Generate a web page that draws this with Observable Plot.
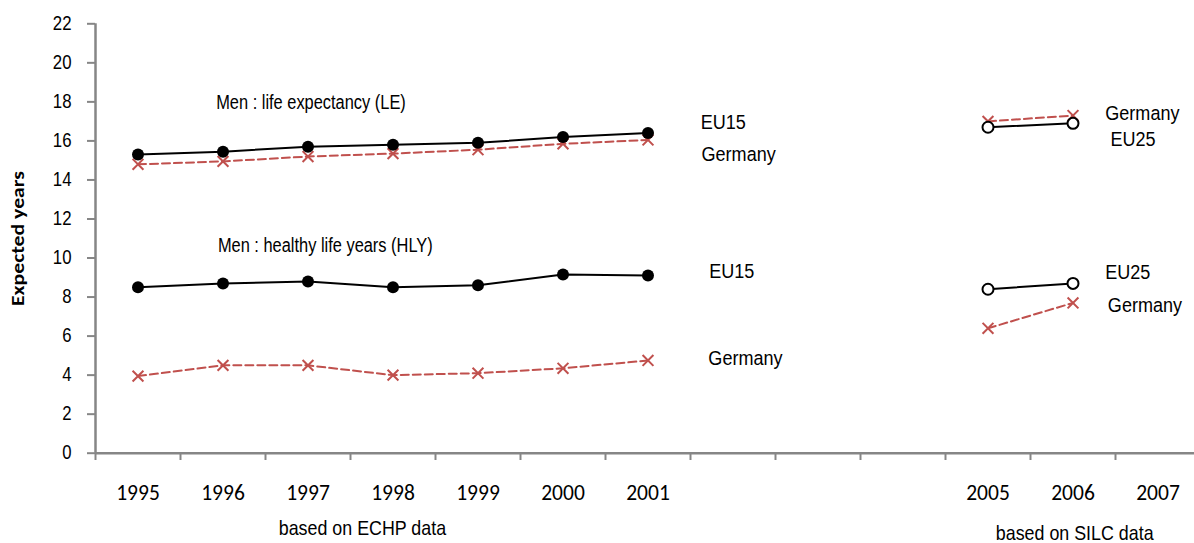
<!DOCTYPE html>
<html>
<head>
<meta charset="utf-8">
<script src="https://cdn.jsdelivr.net/npm/d3@7"></script>
<script src="https://cdn.jsdelivr.net/npm/@observablehq/plot@0.6"></script>
<style>
  html, body { margin: 0; padding: 0; background: #fff; }
  #chart svg { display: block; }
</style>
</head>
<body>
<div id="chart"></div>
<script>
// ---- data ----
const echpYears = [1995, 1996, 1997, 1998, 1999, 2000, 2001];
const silcYears = [2005, 2006];
const leEU15 = [15.3, 15.45, 15.7, 15.8, 15.9, 16.2, 16.4];
const leGermanyECHP = [14.8, 14.95, 15.2, 15.35, 15.55, 15.85, 16.05];
const hlyEU15 = [8.5, 8.7, 8.8, 8.5, 8.6, 9.15, 9.1];
const hlyGermanyECHP = [3.95, 4.5, 4.5, 4.0, 4.1, 4.35, 4.75];
const leEU25 = [16.7, 16.9];
const leGermanySILC = [17.0, 17.3];
const hlyEU25 = [8.4, 8.7];
const hlyGermanySILC = [6.4, 7.7];
const tickYears = [1995, 1996, 1997, 1998, 1999, 2000, 2001, 2005, 2006, 2007];
const allYears = d3.range(1995, 2008);
const yTicks = d3.range(0, 23, 2);
const seriesLabels = ["EU15", "Germany", "EU15", "Germany", "Germany", "EU25", "EU25", "Germany"];
const seriesLabelYear = [2001.62, 2001.63, 2001.72, 2001.71, 2006.38, 2006.44, 2006.38, 2006.41];
const seriesLabelValue = [16.93, 15.33, 9.3, 4.85, 17.4, 16.05, 9.26, 7.57];
const groupTitles = ["Men : life expectancy (LE)", "Men : healthy life years (HLY)"];
const groupTitleYear = [1995.92, 1995.94];
const groupTitleValue = [17.97, 10.64];
const captions = ["based on ECHP data", "based on SILC data"];
const captionYear = [1997.64, 2006.02];

// ---- build table ----
const rows = [];
function add(years, vals, seg, kind) {
  years.forEach((yr, i) => rows.push({year: yr, value: vals[i], seg, kind}));
}
add(echpYears, leEU15, "leEU15", "EU15");
add(echpYears, leGermanyECHP, "leDE1", "DE");
add(echpYears, hlyEU15, "hlyEU15", "EU15");
add(echpYears, hlyGermanyECHP, "hlyDE1", "DE");
add(silcYears, leEU25, "leEU25", "EU25");
add(silcYears, leGermanySILC, "leDE2", "DE");
add(silcYears, hlyEU25, "hlyEU25", "EU25");
add(silcYears, hlyGermanySILC, "hlyDE2", "DE");

const labels = seriesLabels.map((t, i) => ({t, x: seriesLabelYear[i], y: seriesLabelValue[i]}));
const titles = groupTitles.map((t, i) => ({t, x: groupTitleYear[i], y: groupTitleValue[i]}));
const caps = captions.map((t, i) => ({t, x: captionYear[i]}));
const bandEdges = allYears.map(y => y - 0.5);

const gray = "#868686";
const red = "#C0504D";
const narrow = "Liberation Sans";
const calib = "Carlito";
// horizontal condensing factor per font size (imitates Arial Narrow)
const condense = {"20": 0.82, "20.5": 0.88, "21": 0.85, "19.5": 0.86};

const chart = Plot.plot({
  width: 1194,
  height: 543,
  marginLeft: 95,
  marginRight: 0,
  marginTop: 23,
  marginBottom: 90,
  x: {domain: [1994.5, 2007.5], range: [95, 1200]},
  y: {domain: [0, 22], range: [452.7, 23.3]},
  marks: [
    Plot.axisY({ticks: yTicks, tickSize: 8, tickPadding: 16, stroke: gray, strokeWidth: 2, fill: "black",
      fontSize: 19.5, fontFamily: narrow, label: null}),
    Plot.axisX({ticks: bandEdges, tickSize: 7, tickFormat: () => "", stroke: gray, strokeWidth: 2, label: null}),
    Plot.ruleX([1994.5], {y1: 0, y2: 22, stroke: gray, strokeWidth: 2.5}),
    Plot.ruleY([0], {x1: 1994.5, x2: 2007.5, stroke: gray, strokeWidth: 2.5}),
    Plot.text(tickYears, {x: d => d, text: d => String(d), frameAnchor: "bottom", dy: 40, lineAnchor: "middle",
      fontSize: 21.5, fontFamily: calib, fill: "black"}),
    Plot.text(["Expected years"], {frameAnchor: "left", dx: -77, rotate: -90, text: d => d, textAnchor: "middle",
      lineAnchor: "middle", fontSize: 17, fontWeight: "bold", fontFamily: "Carlito, Lato", fill: "black"}),
    Plot.line(rows.filter(d => d.kind !== "DE"), {x: "year", y: "value", z: "seg", stroke: "black", strokeWidth: 2}),
    Plot.line(rows.filter(d => d.kind === "DE"), {x: "year", y: "value", z: "seg", stroke: red, strokeWidth: 2, strokeDasharray: "8,4"}),
    Plot.dot(rows.filter(d => d.kind === "DE"), {x: "year", y: "value", symbol: "times", stroke: red, strokeWidth: 2, r: 5}),
    Plot.dot(rows.filter(d => d.kind === "EU15"), {x: "year", y: "value", fill: "black", r: 6}),
    Plot.dot(rows.filter(d => d.kind === "EU25"), {x: "year", y: "value", fill: "white", stroke: "black", strokeWidth: 2, r: 5.5}),
    Plot.text(labels, {x: "x", y: "y", text: "t", textAnchor: "start", fontSize: 20.5, fontFamily: narrow, fill: "black"}),
    Plot.text(titles, {x: "x", y: "y", text: "t", textAnchor: "start", fontSize: 20, fontFamily: narrow, fill: "black"}),
    Plot.text(caps.slice(0, 1), {x: "x", text: "t", frameAnchor: "bottom", dy: 75, lineAnchor: "middle", fontSize: 21, fontFamily: narrow, fill: "black"}),
    Plot.text(caps.slice(1), {x: "x", text: "t", frameAnchor: "bottom", dy: 80, lineAnchor: "middle", fontSize: 21, fontFamily: narrow, fill: "black"})
  ]
});
document.getElementById("chart").appendChild(chart);

// condense the Arial-style text to mimic Arial Narrow
d3.select(chart).selectAll("g[font-family='Liberation Sans']").each(function () {
  const f = condense[this.getAttribute("font-size")] || 0.82;
  d3.select(this).selectAll("text").each(function () {
    const L = this.getComputedTextLength();
    if (L > 0) {
      this.setAttribute("textLength", (L * f).toFixed(1));
      this.setAttribute("lengthAdjust", "spacingAndGlyphs");
    }
  });
});
// the rotated axis title is stretched along its length in the original
d3.select(chart).selectAll("g[font-weight='bold'] text").each(function () {
  this.setAttribute("textLength", 135);
  this.setAttribute("lengthAdjust", "spacingAndGlyphs");
});
</script>
</body>
</html>
